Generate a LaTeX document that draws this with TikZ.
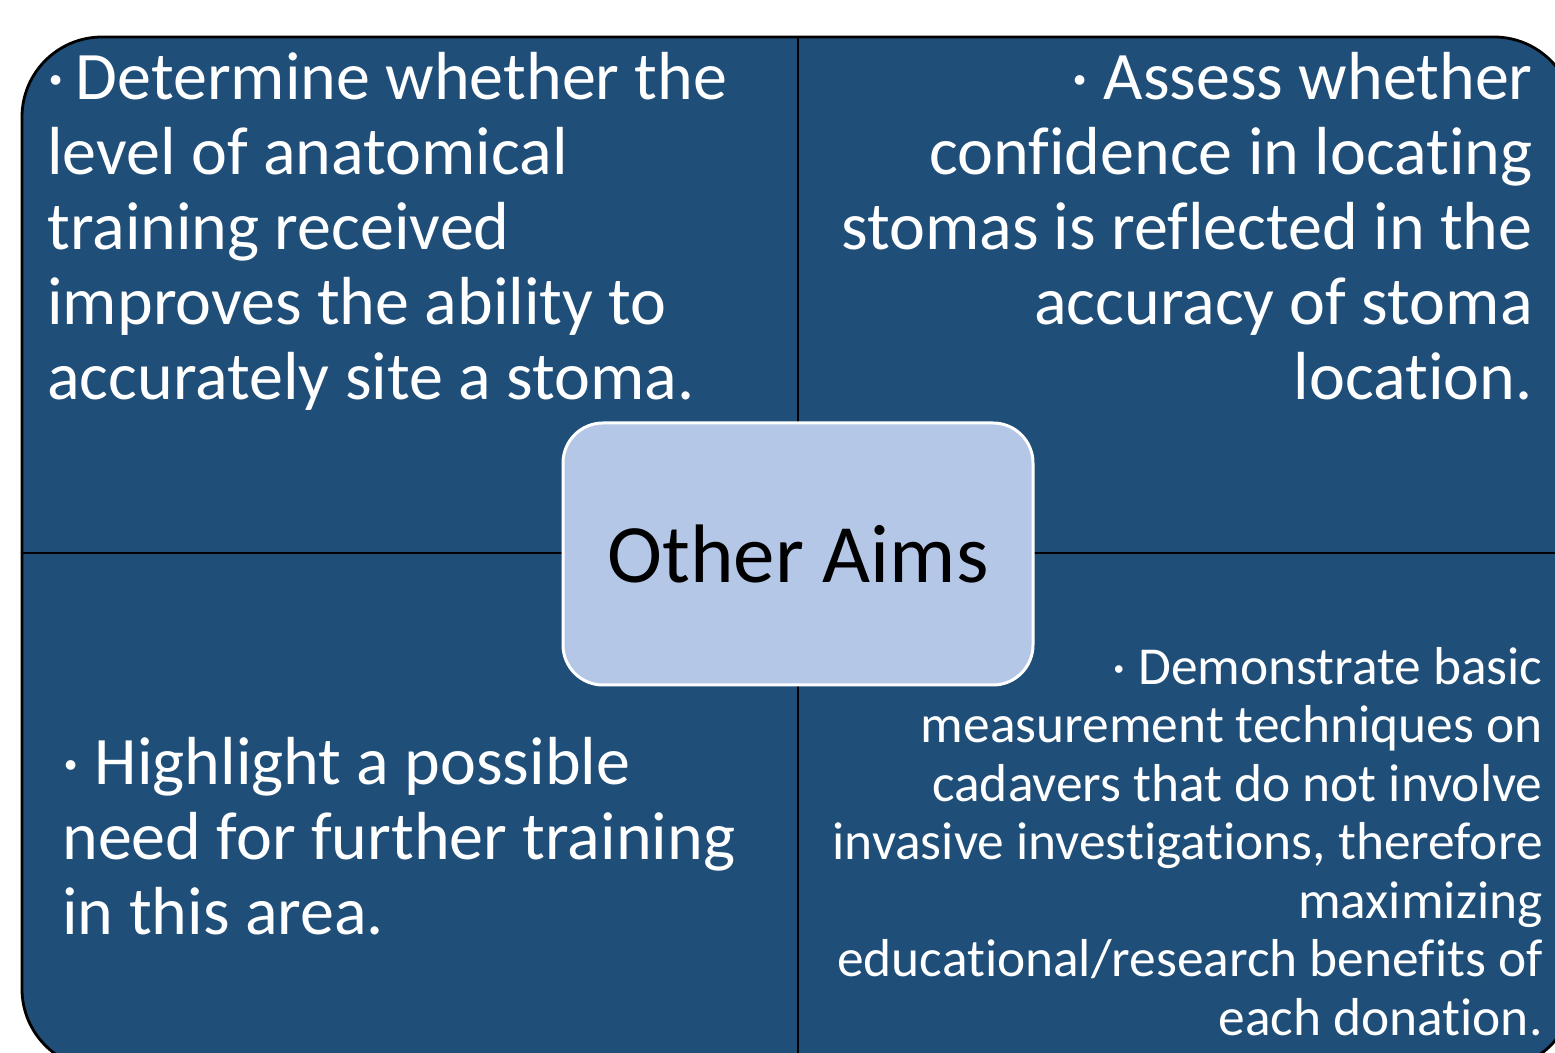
\documentclass[tikz,border=0pt]{standalone}
\usepackage{fontspec}
\setmainfont{Carlito}[Ligatures=NoCommon]
\definecolor{aimblue}{HTML}{1F4E79}
\definecolor{aimlight}{HTML}{B4C7E7}

\begin{document}
\begin{tikzpicture}[x=0.5pt,y=-0.5pt,
  frame/.style={draw=black,line width=1.4pt,fill=aimblue,rounded corners=40pt,
    minimum width=776pt,minimum height=516pt,inner sep=0pt},
  hub/.style={draw=white,line width=1.5pt,fill=aimlight,rounded corners=20pt,
    minimum width=235pt,minimum height=131pt,inner sep=0pt,
    font=\fontsize{41.5}{50}\selectfont},
  big/.style={text=white,inner sep=0pt,font=\fontsize{34}{37.5}\selectfont},
  small/.style={text=white,inner sep=0pt,font=\fontsize{26.7}{29.25}\selectfont}]
\useasboundingbox (0,0) rectangle (1555,1053);
\clip (0,0) rectangle (1555,1053);
\draw
(798,553) node[frame](f){}
;
%%% Quarters
\draw[line width=1.2pt] (f.north) -- (f.south);
\draw[line width=1.2pt] (f.west) -- (f.east);
%%% Aims, anchored at the baseline of the last line
\draw
(798,554) node[hub](aims){Other Aims}
(47,400) node[big,anchor=base west,align=left](tl){·\,Determine whether the\\level of anatomical\\training received\\improves the ability to\\accurately site a stoma.}
(1533,400) node[big,anchor=base east,align=right](tr){· Assess whether\\confidence in locating\\stomas is reflected in the\\accuracy of stoma\\location.}
(62,935) node[big,anchor=base west,align=left](bl){· Highlight a possible\\need for further training\\in this area.}
(1543,1035) node[small,anchor=base east,align=right](br){· Demonstrate basic\\measurement techniques on\\cadavers that do not involve\\invasive investigations, therefore\\maximizing\\educational/research benefits of\\each donation.}
;
\end{tikzpicture}
\end{document}
